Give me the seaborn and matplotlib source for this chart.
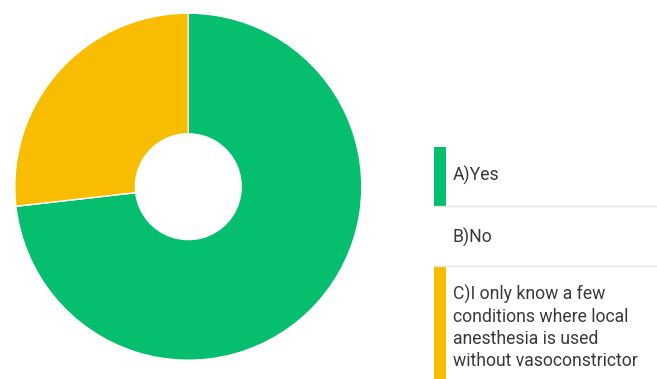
import matplotlib
matplotlib.use("Agg")
import matplotlib.pyplot as plt
from matplotlib.patches import Rectangle
from matplotlib.lines import Line2D
import seaborn as sns

# Survey answers and their shares (percent of respondents)
categories = ["A)Yes", "B)No",
              "C)I only know a few\nconditions where local\nanesthesia is used\nwithout vasoconstrictor"]
shares = [73.2, 0.0, 26.8]
colors = ["#05BE6E", "#FFFFFF", "#F8BD00"]

sns.set_theme(style="white")
plt.rcParams["font.family"] = ["Roboto", "DejaVu Sans"]

W, H = 657, 379
fig = plt.figure(figsize=(W / 100, H / 100), dpi=100)
fig.patch.set_facecolor("white")

# Donut chart
cx, cy, r = 188.3, 186.7, 173.5
ax = fig.add_axes([(cx - r) / W, (H - cy - r) / H, 2 * r / W, 2 * r / H])
drawn = [(s, c) for s, c in zip(shares, colors) if s > 0]
ax.pie([s for s, _ in drawn], colors=[c for _, c in drawn],
       startangle=90, counterclock=False, radius=1.0,
       wedgeprops=dict(width=0.695, edgecolor="white", linewidth=1.0))
ax.set_xlim(-1, 1)
ax.set_ylim(-1, 1)
ax.set_aspect("equal")
ax.axis("off")

# Legend on the right, drawn as stacked rows with a colour bar each
def fx(px):
    return px / W

def fy(py):
    return 1 - py / H

rows = [(147, 206), (206, 266), (266, 379)]
text_y = [175, 237, 285]
for i, (label, col) in enumerate(zip(categories, colors)):
    top, bot = rows[i]
    if shares[i] > 0:
        fig.add_artist(Rectangle((fx(434), fy(bot)), fx(12), fy(top) - fy(bot),
                                 transform=fig.transFigure, facecolor=col,
                                 edgecolor="none"))
    if i < len(categories) - 1:
        fig.add_artist(Line2D([fx(434), 1], [fy(bot), fy(bot)],
                              transform=fig.transFigure, color="#e3e3e3", lw=1.0))
    va = "center" if "\n" not in label else "top"
    fig.text(fx(453), fy(text_y[i]), label, fontsize=12.7, color="#3a3a3a",
             va=va, ha="left", linespacing=1.28)

fig.savefig("out.png", dpi=100, facecolor="white")
